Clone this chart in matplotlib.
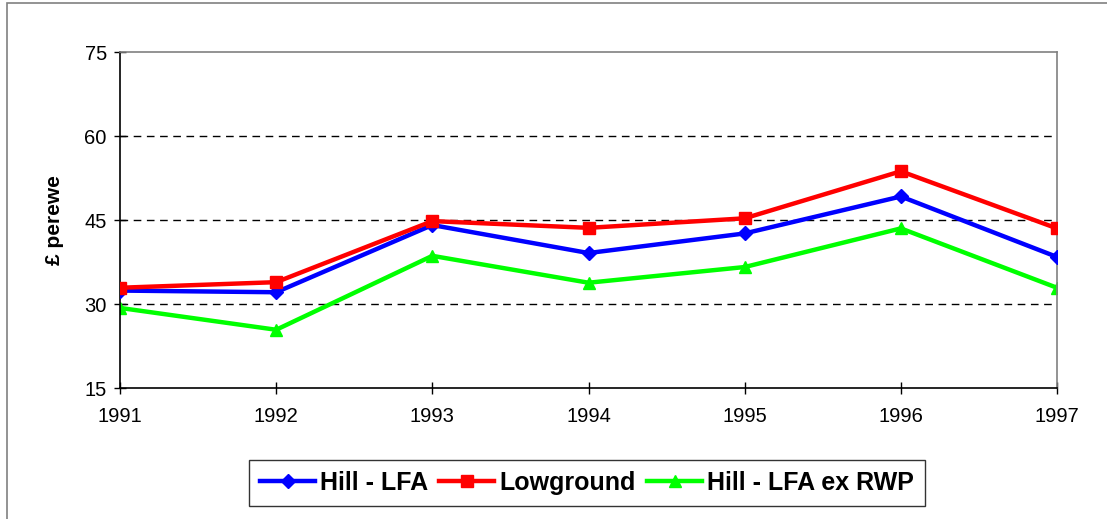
import numpy as np
import matplotlib.pyplot as plt
from matplotlib.patches import Rectangle

plt.rcParams['font.family'] = ['Liberation Sans', 'DejaVu Sans']

# --------------------------------------------------
# DATOS (£ por oveja)
# --------------------------------------------------
years     = [1991, 1992, 1993, 1994, 1995, 1996, 1997]
hill_lfa  = [32.4, 32.1, 44.1, 39.1, 42.6, 49.2, 38.4]
lowground = [32.9, 33.9, 44.8, 43.6, 45.3, 53.7, 43.5]
hill_ex   = [29.3, 25.4, 38.6, 33.8, 36.6, 43.5, 32.9]

yticks = [15, 30, 45, 60, 75]

fig = plt.figure(figsize=(11.07, 5.19), dpi=100)
ax = fig.add_axes([120/1107, 1 - 388/519, (1057 - 120)/1107, (388 - 52)/519])

# marco exterior del gráfico
fig.patches.append(Rectangle((7/1107, -0.1), 1.2, 1 - 3/519 + 0.1,
                             transform=fig.transFigure, fill=False,
                             edgecolor='#808080', lw=1.2))

ax.plot(years, hill_lfa, color='#0000ff', lw=3.2, marker='D', markersize=7,
        label='Hill - LFA', zorder=3)
ax.plot(years, lowground, color='#ff0000', lw=3.2, marker='s', markersize=8,
        label='Lowground', zorder=4)
ax.plot(years, hill_ex, color='#00ff00', lw=3.2, marker='^', markersize=9,
        label='Hill - LFA ex RWP', zorder=2)

ax.set_xlim(1991, 1997)
ax.set_ylim(15, 75)
ax.set_xticks(years)
ax.set_yticks(yticks)

for v in [30, 45, 60]:
    ax.axhline(v, color='black', lw=1, dashes=(5.5, 4), zorder=1)

for s in ['top', 'right']:
    ax.spines[s].set_color('#808080')
    ax.spines[s].set_linewidth(1.2)
for s in ['left', 'bottom']:
    ax.spines[s].set_color('black')
    ax.spines[s].set_linewidth(1.2)

ax.tick_params(axis='both', direction='inout', length=9, width=1,
               labelsize=14.5)
ax.tick_params(axis='x', pad=9)
ax.tick_params(axis='y', pad=5)
ax.set_ylabel('£ perewe', fontsize=15, fontweight='bold')
ax.yaxis.set_label_coords(-0.060, 0.5)

leg = fig.legend(loc='center', bbox_to_anchor=(587/1107, 1 - 483/519),
                 ncol=3, frameon=True, fancybox=False, edgecolor='black',
                 prop={'weight': 'bold', 'size': 18}, handlelength=2.2,
                 handletextpad=0.2, columnspacing=0.45, borderpad=0.45,
                 markerscale=1.0)
leg.get_frame().set_linewidth(1)

fig.savefig('out.png', dpi=100)
